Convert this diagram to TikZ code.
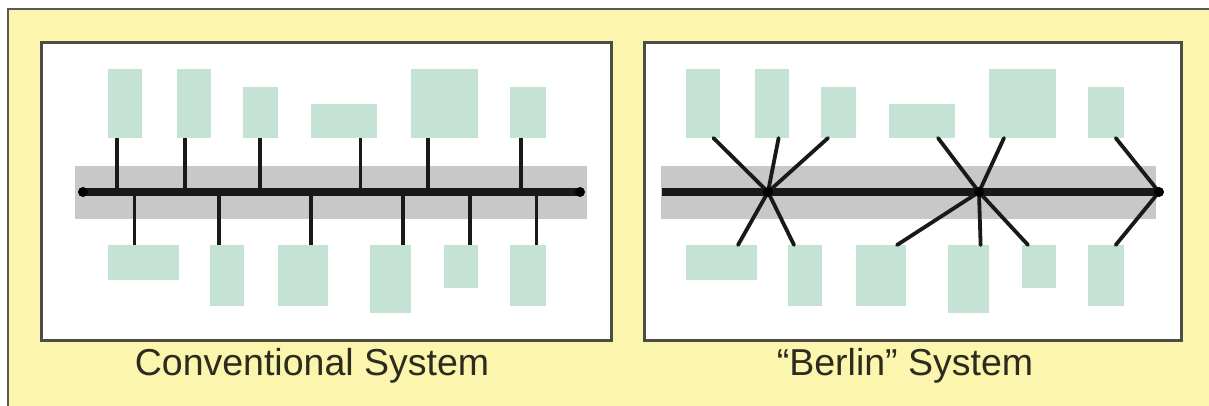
\documentclass[tikz,border=0pt]{standalone}
\usepackage{fontspec}
\setmainfont{Liberation Sans}
\usepackage{tikz}
\usetikzlibrary{positioning,calc}
\definecolor{paper}{HTML}{FBF5AE}
\definecolor{unitfill}{HTML}{C4E3D5}
\definecolor{bandfill}{HTML}{C9C7C7}
\definecolor{frame}{HTML}{4D4D45}
\definecolor{ink}{HTML}{2B2B1E}

\begin{document}
\begin{tikzpicture}[x=1pt,y=-1pt,
  unit/.style={fill=unitfill, inner sep=0pt, outer sep=0pt},
  panel/.style={draw=frame, line width=3pt, fill=white},
  drop/.style={line width=3.8pt, black!90},
  bus/.style={line width=7pt, black!90},
  caption/.style={font=\fontsize{37.5}{42}\selectfont, text=ink}]
\useasboundingbox (0,0) rectangle (1209,406);
\fill[white] (0,0) rectangle (1209,406);
\fill[paper] (8,9) rectangle (1209,406);
\draw[gray!70!black, line width=2pt] (8,406) -- (8,9) -- (1209,9);
% conventional
\draw[panel] (41.5,43) rectangle (611,340);
\fill[bandfill] (75,166) rectangle (587,219);
\coordinate (aw) at (83,192);
\coordinate (ae) at (580,192);
\foreach \n/\x/\y/\w/\h/\d in {t1/125/103.5/34/69/116.6, t2/194/103.5/34/69/184.6,
  t3/260.5/112.5/35/51/259.7, t4/344/121/66/34/360.5, t5/444.5/103.5/67/69/427.7,
  t6/528/112.5/36/51/520.6} {
  \node[unit, minimum width=\w pt, minimum height=\h pt] (\n) at (\x,\y) {};
  \draw[drop] (\n.south -| \d,0) -- (\d,0 |- aw);
}
\foreach \n/\x/\y/\w/\h/\d in {b1/143.5/262.5/71/35/134.4, b2/227/275.5/34/61/218.6,
  b3/303/275.5/50/61/311, b4/390.5/279/41/68/403, b5/461/266.5/34/43/469.6,
  b6/528/275.5/36/61/536.4} {
  \node[unit, minimum width=\w pt, minimum height=\h pt] (\n) at (\x,\y) {};
  \draw[drop] (\n.north -| \d,0) -- (\d,0 |- aw);
}
\draw[bus] (aw) -- (ae);
\fill[black] (aw) circle (5) (ae) circle (5);
\node[caption] (lcap) at (312,366) {Conventional System};
% berlin
\draw[panel] (644,43) rectangle (1181,340);
\fill[bandfill] (661,166) rectangle (1156,219);
\coordinate (bw) at (662,192);
\coordinate (h1) at (768,192);
\coordinate (h2) at (979,192);
\coordinate (tip) at (1159,192);
\foreach \n/\x/\y/\w/\h/\d/\c in {rt1/703/103.5/34/69/713.4/h1, rt2/772/103.5/34/69/778.6/h1,
  rt3/838.5/112.5/35/51/828/h1, rt4/922/121/66/34/938/h2, rt5/1022.5/103.5/67/69/1004/h2,
  rt6/1106/112.5/36/51/1115.7/tip} {
  \node[unit, minimum width=\w pt, minimum height=\h pt] (\n) at (\x,\y) {};
  \draw[drop, line cap=round] (\n.south -| \d,0) -- (\c);
}
\foreach \n/\x/\y/\w/\h/\d/\c in {rb1/721.5/262.5/71/35/738/h1, rb2/805/275.5/34/61/794/h1,
  rb3/881/275.5/50/61/897/h2, rb4/968.5/279/41/68/980.6/h2, rb5/1039/266.5/34/43/1028/h2,
  rb6/1106/275.5/36/61/1115.7/tip} {
  \node[unit, minimum width=\w pt, minimum height=\h pt] (\n) at (\x,\y) {};
  \draw[drop, line cap=round] (\n.north -| \d,0) -- (\c);
}
\draw[bus] (bw) -- (tip);
\fill[black] (h1) circle (5) (h2) circle (5) (tip) circle (5);
\node[caption] (rcap) at (905,366) {“Berlin” System};
\end{tikzpicture}
\end{document}
